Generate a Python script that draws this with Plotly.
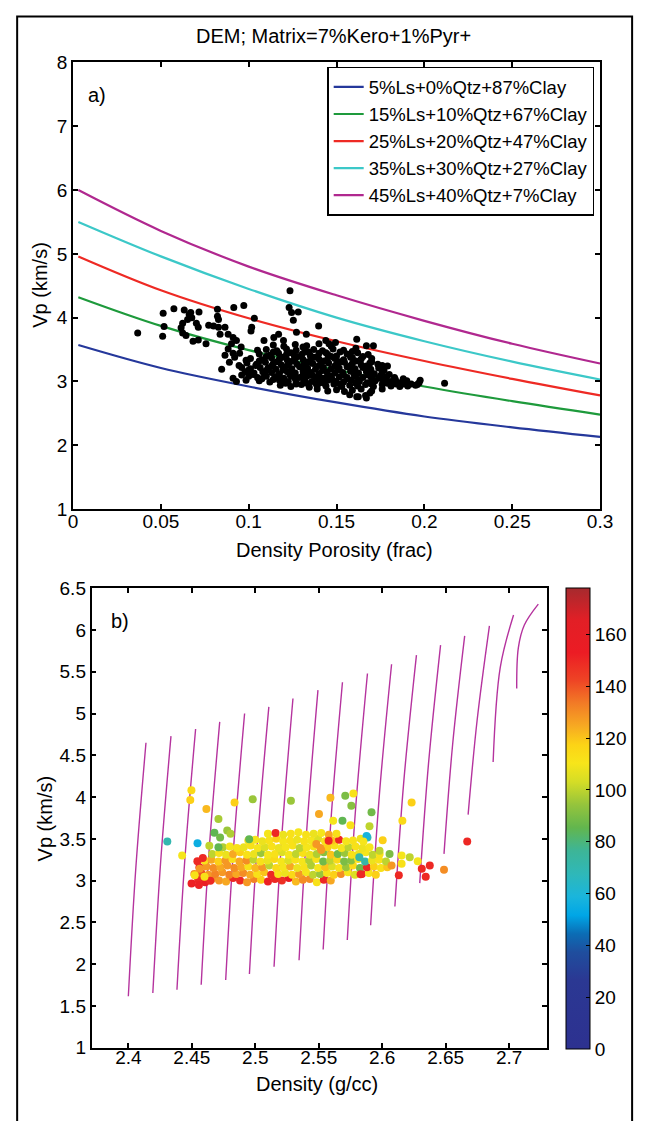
import plotly.graph_objects as go

W, H = 649, 1121

# ---------------- Panel a : model curves ----------------
por_grid = [0.003, 0.05, 0.10, 0.15, 0.20, 0.25, 0.30]
curve_names = ["5%Ls+0%Qtz+87%Clay", "15%Ls+10%Qtz+67%Clay", "25%Ls+20%Qtz+47%Clay",
               "35%Ls+30%Qtz+27%Clay", "45%Ls+40%Qtz+7%Clay"]
vp_blue = [3.57, 3.21, 2.92, 2.67, 2.45, 2.28, 2.13]
vp_green = [4.32, 3.87, 3.49, 3.18, 2.92, 2.69, 2.48]
vp_red = [4.96, 4.43, 3.99, 3.63, 3.32, 3.04, 2.78]
vp_cyan = [5.50, 4.96, 4.45, 4.00, 3.63, 3.31, 3.03]
vp_magenta = [6.00, 5.36, 4.80, 4.35, 3.95, 3.59, 3.28]
curve_colors = ["#25389b", "#1e9a3c", "#ee2a24", "#3cc8c8", "#b0288f"]

# ---------------- Panel a : data points (porosity, Vp) ----------------
pts_a = [
    (0.0368, 3.76), (0.0513, 4.07), (0.0518, 3.86), (0.0510, 3.71), (0.0574, 4.14), (0.0633, 4.12),
    (0.0670, 4.08), (0.0717, 4.09), (0.0661, 4.05), (0.0652, 3.97), (0.0624, 3.91), (0.0615, 3.84),
    (0.0624, 3.76), (0.0643, 3.72), (0.0676, 4.00), (0.0702, 3.91), (0.0713, 3.85), (0.0683, 3.63),
    (0.0713, 3.65), (0.0757, 3.59), (0.0822, 4.13), (0.0822, 4.02), (0.0828, 3.97), (0.0915, 4.16),
    (0.0972, 4.19), (0.1032, 3.99), (0.1017, 3.85), (0.1013, 3.79), (0.0772, 3.88), (0.0800, 3.87),
    (0.0828, 3.85), (0.0865, 3.85), (0.0837, 3.74), (0.0883, 3.74), (0.0911, 3.69), (0.0930, 3.64),
    (0.0902, 3.59), (0.0883, 3.51), (0.0957, 3.54), (0.0948, 3.44), (0.0911, 3.44), (0.0865, 3.41),
    (0.0846, 3.19), (0.0911, 3.05), (0.0930, 3.00), (0.0985, 3.33), (0.1050, 3.49), (0.1087, 3.64),
    (0.1143, 3.69), (0.1170, 3.74), (0.1198, 3.64), (0.1235, 4.42), (0.1230, 4.16), (0.1244, 4.08),
    (0.1282, 4.09), (0.1254, 3.96), (0.1272, 3.77), (0.1328, 3.74), (0.1398, 3.87), (0.1439, 3.64),
    (0.1309, 3.54), (0.1615, 3.66), (0.1670, 3.56), (0.1710, 3.56), (0.1494, 3.61), (0.1457, 3.59),
    (0.1624, 2.76), (0.1670, 2.74), (0.1976, 3.02), (0.2115, 2.97), (0.1840, 2.96), (0.1925, 2.96),
    (0.1960, 2.95), (0.0890, 3.30), (0.0920, 3.38), (0.0945, 3.25), (0.0960, 3.10), (0.0985, 3.02),
    # dense cluster
    (0.1575, 2.79), (0.1615, 2.76), (0.1665, 2.78), (0.1690, 2.82),
    (0.1390, 2.88), (0.1450, 2.85), (0.1500, 2.87), (0.1545, 2.84), (0.1590, 2.86), (0.1640, 2.88),
    (0.1700, 2.85), (0.1760, 2.88),
    (0.1180, 2.94), (0.1240, 2.92), (0.1300, 2.95), (0.1345, 2.91), (0.1390, 2.94), (0.1440, 2.93),
    (0.1485, 2.96), (0.1530, 2.92), (0.1575, 2.94), (0.1620, 2.93), (0.1665, 2.95), (0.1710, 2.92),
    (0.1760, 2.95), (0.1810, 2.93), (0.1860, 2.92), (0.1905, 2.93), (0.1950, 2.94),
    (0.1060, 3.01), (0.1120, 2.99), (0.1175, 3.02), (0.1225, 3.00), (0.1270, 2.98), (0.1315, 3.01),
    (0.1360, 3.00), (0.1405, 2.98), (0.1450, 3.02), (0.1495, 3.00), (0.1540, 2.99), (0.1585, 3.02),
    (0.1630, 3.00), (0.1675, 2.98), (0.1720, 3.01), (0.1765, 2.99), (0.1810, 3.00), (0.1855, 2.98),
    (0.1900, 3.01), (0.1970, 2.98),
    (0.1000, 3.08), (0.1050, 3.06), (0.1100, 3.08), (0.1150, 3.07), (0.1200, 3.05), (0.1245, 3.08),
    (0.1290, 3.06), (0.1335, 3.09), (0.1380, 3.07), (0.1425, 3.05), (0.1470, 3.08), (0.1515, 3.07),
    (0.1560, 3.06), (0.1605, 3.08), (0.1650, 3.06), (0.1695, 3.08), (0.1740, 3.05), (0.1785, 3.07),
    (0.1830, 3.06), (0.1880, 3.04),
    (0.0980, 3.15), (0.1030, 3.13), (0.1080, 3.15), (0.1130, 3.14), (0.1175, 3.12), (0.1220, 3.15),
    (0.1265, 3.13), (0.1310, 3.16), (0.1355, 3.14), (0.1400, 3.12), (0.1445, 3.15), (0.1490, 3.13),
    (0.1535, 3.14), (0.1580, 3.16), (0.1625, 3.13), (0.1670, 3.15), (0.1715, 3.12), (0.1760, 3.14),
    (0.1800, 3.11),
    (0.0960, 3.22), (0.1010, 3.20), (0.1065, 3.22), (0.1110, 3.21), (0.1155, 3.19), (0.1200, 3.22),
    (0.1245, 3.20), (0.1290, 3.23), (0.1335, 3.21), (0.1380, 3.19), (0.1425, 3.22), (0.1470, 3.20),
    (0.1515, 3.21), (0.1560, 3.23), (0.1605, 3.20), (0.1650, 3.22), (0.1695, 3.19), (0.1740, 3.21),
    (0.1790, 3.24),
    (0.0990, 3.29), (0.1045, 3.27), (0.1095, 3.30), (0.1140, 3.28), (0.1185, 3.26), (0.1230, 3.29),
    (0.1275, 3.27), (0.1320, 3.30), (0.1365, 3.28), (0.1410, 3.26), (0.1455, 3.29), (0.1500, 3.27),
    (0.1545, 3.30), (0.1590, 3.28), (0.1640, 3.26), (0.1690, 3.29), (0.1735, 3.27),
    (0.1010, 3.36), (0.1075, 3.34), (0.1130, 3.37), (0.1175, 3.35), (0.1220, 3.33), (0.1265, 3.36),
    (0.1310, 3.34), (0.1355, 3.37), (0.1400, 3.35), (0.1445, 3.33), (0.1490, 3.36), (0.1540, 3.34),
    (0.1590, 3.37), (0.1640, 3.35), (0.1700, 3.36),
    (0.1060, 3.43), (0.1120, 3.41), (0.1170, 3.44), (0.1215, 3.42), (0.1260, 3.40), (0.1305, 3.43),
    (0.1350, 3.41), (0.1400, 3.44), (0.1450, 3.42), (0.1500, 3.40), (0.1560, 3.43), (0.1620, 3.45),
    (0.1680, 3.42),
    (0.1100, 3.50), (0.1160, 3.48), (0.1215, 3.51), (0.1270, 3.49), (0.1320, 3.47), (0.1370, 3.50),
    (0.1420, 3.48), (0.1480, 3.51), (0.1540, 3.49), (0.1610, 3.52),
    (0.1140, 3.57), (0.1200, 3.55), (0.1265, 3.58), (0.1330, 3.56), (0.1400, 3.59), (0.1470, 3.55),
    # interleaved points in the dense core
    (0.1210, 2.97), (0.1270, 2.96), (0.1330, 2.97), (0.1385, 2.96), (0.1430, 2.97), (0.1520, 2.96),
    (0.1610, 2.97), (0.1700, 2.96), (0.1790, 2.97), (0.1880, 2.96),
    (0.1075, 3.04), (0.1140, 3.03), (0.1200, 3.02), (0.1265, 3.04), (0.1320, 3.03), (0.1395, 3.04),
    (0.1475, 3.03), (0.1560, 3.04), (0.1625, 3.03), (0.1700, 3.04), (0.1765, 3.03), (0.1835, 3.03),
    (0.1025, 3.11), (0.1090, 3.10), (0.1170, 3.11), (0.1235, 3.10), (0.1310, 3.11), (0.1360, 3.10),
    (0.1450, 3.11), (0.1540, 3.10), (0.1600, 3.11), (0.1680, 3.10), (0.1750, 3.09),
    (0.1000, 3.18), (0.1100, 3.17), (0.1195, 3.18), (0.1245, 3.17), (0.1330, 3.18), (0.1420, 3.17),
    (0.1510, 3.18), (0.1600, 3.18), (0.1690, 3.17), (0.1770, 3.17),
    (0.1040, 3.25), (0.1130, 3.24), (0.1220, 3.25), (0.1310, 3.24), (0.1400, 3.25), (0.1490, 3.24),
    (0.1580, 3.25), (0.1670, 3.24), (0.1760, 3.25),
    (0.1060, 3.32), (0.1160, 3.31), (0.1250, 3.32), (0.1340, 3.31), (0.1430, 3.32), (0.1520, 3.31),
    (0.1610, 3.32), (0.1700, 3.31),
    (0.1100, 3.39), (0.1190, 3.38), (0.1280, 3.39), (0.1375, 3.38), (0.1470, 3.39), (0.1580, 3.38),
    (0.1650, 3.39),
    (0.1140, 3.46), (0.1240, 3.45), (0.1340, 3.46), (0.1440, 3.45), (0.1520, 3.46), (0.1590, 3.47),
]
por_pts = [p for p, v in pts_a]
vp_pts_a = [v for p, v in pts_a]

# ---------------- Panel b : model curves (density, Vp) ----------------
rho_curves = [
    [2.4000, 2.4058, 2.4139], [2.4193, 2.4253, 2.4336], [2.4383, 2.4445, 2.4530],
    [2.4574, 2.4635, 2.4720], [2.4767, 2.4830, 2.4916], [2.4954, 2.5018, 2.5107],
    [2.5148, 2.5211, 2.5297], [2.5345, 2.5408, 2.5494], [2.5535, 2.5599, 2.5687],
    [2.5725, 2.5792, 2.5884], [2.5909, 2.5978, 2.6074], [2.6100, 2.6171, 2.6270],
    [2.6296, 2.6365, 2.6460], [2.6487, 2.6555, 2.6650], [2.6677, 2.6748, 2.6845],
    [2.6874, 2.6930, 2.7035], [2.7060, 2.7073, 2.7120, 2.7230],
]
vp_curves = [
    [1.615, 3.13, 4.65], [1.654, 3.19, 4.73], [1.694, 3.25, 4.815],
    [1.753, 3.33, 4.90], [1.811, 3.41, 5.00], [1.882, 3.48, 5.08],
    [1.968, 3.57, 5.18], [2.046, 3.66, 5.28], [2.176, 3.78, 5.375],
    [2.290, 3.89, 5.48], [2.465, 4.03, 5.59], [2.690, 4.20, 5.70],
    [2.970, 4.40, 5.82], [3.320, 4.63, 5.93], [3.790, 4.92, 6.05],
    [4.420, 5.55, 6.18], [5.300, 5.79, 6.06, 6.31],
]

# ---------------- Panel b : data points (density, Vp, colour value) ----------------
pts_b = [
    (2.4550, 3.01, 150), (2.4605, 2.98, 155), (2.4660, 3.02, 130), (2.4715, 3.00, 128), (2.4770, 2.99, 125),
    (2.4825, 3.03, 150), (2.4880, 3.00, 150), (2.4935, 2.98, 128), (2.4990, 3.02, 132), (2.5045, 3.01, 118),
    (2.5100, 2.99, 152), (2.5155, 3.02, 150), (2.5210, 3.00, 148), (2.5265, 3.03, 155), (2.5320, 2.99, 122),
    (2.5375, 3.01, 130), (2.5430, 3.02, 130), (2.5485, 2.98, 112), (2.5540, 3.01, 150), (2.5595, 3.00, 125),
    (2.4520, 3.08, 130), (2.4575, 3.09, 140), (2.4630, 3.07, 128), (2.4685, 3.08, 132), (2.4740, 3.10, 128),
    (2.4795, 3.07, 132), (2.4850, 3.08, 125), (2.4905, 3.09, 130), (2.4960, 3.07, 125), (2.5015, 3.08, 112),
    (2.5070, 3.10, 120), (2.5125, 3.07, 150), (2.5180, 3.08, 112), (2.5235, 3.09, 108), (2.5290, 3.07, 115),
    (2.5345, 3.08, 128), (2.5400, 3.10, 110), (2.5455, 3.07, 100), (2.5510, 3.08, 95), (2.5565, 3.09, 112),
    (2.5620, 3.07, 118), (2.5675, 3.08, 130), (2.5730, 3.10, 110), (2.5785, 3.07, 105), (2.5840, 3.08, 150),
    (2.5895, 3.09, 112), (2.5950, 3.07, 118),
    (2.4560, 3.16, 150), (2.4615, 3.17, 128), (2.4670, 3.15, 130), (2.4725, 3.16, 125), (2.4780, 3.18, 128),
    (2.4835, 3.15, 130), (2.4890, 3.16, 125), (2.4945, 3.17, 112), (2.5000, 3.15, 122), (2.5055, 3.16, 128),
    (2.5110, 3.18, 100), (2.5165, 3.15, 115), (2.5220, 3.16, 110), (2.5275, 3.17, 125), (2.5330, 3.15, 108),
    (2.5385, 3.16, 112), (2.5440, 3.18, 98), (2.5495, 3.15, 110), (2.5550, 3.16, 120), (2.5605, 3.17, 105),
    (2.5660, 3.15, 112), (2.5715, 3.16, 95), (2.5770, 3.18, 115), (2.5825, 3.15, 88), (2.5880, 3.16, 150),
    (2.5935, 3.17, 118), (2.5990, 3.15, 112), (2.6040, 3.16, 120),
    (2.4600, 3.24, 112), (2.4655, 3.25, 125), (2.4710, 3.23, 118), (2.4765, 3.24, 128), (2.4820, 3.26, 112),
    (2.4875, 3.23, 125), (2.4930, 3.24, 130), (2.4985, 3.25, 100), (2.5040, 3.23, 112), (2.5095, 3.24, 108),
    (2.5150, 3.26, 115), (2.5205, 3.23, 110), (2.5260, 3.24, 105), (2.5315, 3.25, 112), (2.5370, 3.23, 110),
    (2.5425, 3.24, 98), (2.5480, 3.26, 112), (2.5535, 3.23, 88), (2.5590, 3.24, 100), (2.5645, 3.25, 115),
    (2.5700, 3.23, 90), (2.5755, 3.24, 92), (2.5810, 3.26, 112), (2.5865, 3.23, 72), (2.5920, 3.24, 108),
    (2.5975, 3.25, 112), (2.6030, 3.23, 100),
    (2.4660, 3.32, 100), (2.4715, 3.33, 112), (2.4770, 3.31, 108), (2.4825, 3.32, 125), (2.4880, 3.34, 118),
    (2.4935, 3.31, 112), (2.4990, 3.32, 108), (2.5045, 3.33, 95), (2.5100, 3.31, 110), (2.5155, 3.32, 112),
    (2.5210, 3.34, 105), (2.5265, 3.31, 110), (2.5320, 3.32, 100), (2.5375, 3.33, 112), (2.5430, 3.31, 108),
    (2.5485, 3.32, 98), (2.5540, 3.34, 92), (2.5595, 3.31, 120), (2.5650, 3.32, 88), (2.5705, 3.33, 95),
    (2.5760, 3.31, 112), (2.5815, 3.32, 108), (2.5870, 3.34, 110), (2.5925, 3.31, 100), (2.5980, 3.32, 112),
    (2.4745, 3.40, 98), (2.4800, 3.41, 110), (2.4855, 3.39, 112), (2.4910, 3.40, 108), (2.4965, 3.42, 112),
    (2.5020, 3.39, 110), (2.5075, 3.40, 105), (2.5130, 3.41, 112), (2.5185, 3.39, 108), (2.5240, 3.40, 110),
    (2.5295, 3.42, 112), (2.5350, 3.39, 100), (2.5405, 3.40, 110), (2.5460, 3.41, 112), (2.5515, 3.39, 128),
    (2.5570, 3.40, 118), (2.5625, 3.42, 112), (2.5680, 3.39, 110), (2.5735, 3.40, 100), (2.5790, 3.41, 112),
    (2.5845, 3.39, 108), (2.5900, 3.40, 110),
    (2.4945, 3.48, 112), (2.5000, 3.49, 110), (2.5055, 3.47, 108), (2.5110, 3.48, 112), (2.5165, 3.50, 118),
    (2.5220, 3.47, 110), (2.5275, 3.48, 112), (2.5330, 3.49, 108), (2.5385, 3.47, 112), (2.5440, 3.48, 110),
    (2.5495, 3.50, 105), (2.5550, 3.47, 112), (2.5605, 3.48, 120), (2.5660, 3.49, 150), (2.5715, 3.47, 110),
    (2.5770, 3.48, 112), (2.5830, 3.50, 108),
    (2.5100, 3.56, 110), (2.5160, 3.57, 150), (2.5220, 3.55, 108), (2.5280, 3.56, 112), (2.5340, 3.58, 110),
    (2.5400, 3.55, 112), (2.5460, 3.56, 108), (2.5520, 3.57, 110), (2.5580, 3.55, 125), (2.5640, 3.56, 112),
    # scattered points
    (2.4497, 4.083, 115), (2.4488, 3.965, 118), (2.4615, 3.856, 122), (2.4837, 3.934, 118), (2.4980, 3.974, 95),
    (2.5281, 3.957, 95), (2.5592, 3.992, 122), (2.5709, 4.016, 90), (2.5773, 4.044, 112), (2.5757, 3.895, 92),
    (2.5502, 3.797, 125), (2.5687, 3.718, 85), (2.5614, 3.718, 110), (2.5750, 3.663, 112), (2.5916, 3.820, 88),
    (2.6159, 3.718, 115), (2.6232, 3.934, 118), (2.5900, 3.652, 100), (2.4710, 3.737, 97), (2.4307, 3.468, 70),
    (2.4545, 3.448, 55), (2.4424, 3.300, 110), (2.4678, 3.574, 85), (2.4779, 3.601, 95), (2.4723, 3.515, 88),
    (2.4805, 3.562, 98), (2.4952, 3.495, 85), (2.4710, 3.400, 85), (2.4638, 3.417, 100), (2.5884, 3.515, 70),
    (2.5877, 3.535, 58), (2.5852, 3.468, 110), (2.6004, 3.484, 118), (2.5820, 3.280, 72), (2.5979, 3.358, 100),
    (2.6058, 3.319, 90), (2.6153, 3.300, 110), (2.6217, 3.280, 100), (2.6153, 3.201, 112), (2.6074, 3.181, 128),
    (2.6280, 3.233, 110), (2.6312, 3.143, 150), (2.6375, 3.181, 150), (2.6343, 3.045, 150), (2.6487, 3.131, 130),
    (2.6670, 3.468, 150), (2.6131, 3.064, 150), (2.5830, 3.076, 150), (2.5578, 3.476, 150), (2.5481, 3.437, 128),
    (2.5520, 3.366, 128), (2.4544, 3.233, 150), (2.4587, 3.272, 150), (2.4562, 3.143, 128), (2.4498, 2.967, 152),
    (2.4556, 2.947, 152), (2.4646, 2.998, 150), (2.4523, 3.064, 112), (2.4600, 3.045, 112),
]
rho_pts = [r for r, v, c in pts_b]
vp_pts_b = [v for r, v, c in pts_b]
col_pts_b = [c for r, v, c in pts_b]

cb_ticks = [0, 20, 40, 60, 80, 100, 120, 140, 160]
a_xticks = [0, 0.05, 0.1, 0.15, 0.2, 0.25, 0.3]
a_xtext = ["0", "0.05", "0.1", "0.15", "0.2", "0.25", "0.3"]
a_yticks = [1, 2, 3, 4, 5, 6, 7, 8]
b_xticks = [2.4, 2.45, 2.5, 2.55, 2.6, 2.65, 2.7]
b_yticks = [1, 1.5, 2, 2.5, 3, 3.5, 4, 4.5, 5, 5.5, 6, 6.5]
b_ytext = ["1", "1.5", "2", "2.5", "3", "3.5", "4", "4.5", "5", "5.5", "6", "6.5"]

colorscale = [
    [0.00, "#2d3190"], [0.15, "#2b3893"], [0.21, "#1f4e9e"], [0.25, "#0b6db5"],
    [0.29, "#00a6e6"], [0.33, "#1ab5dc"], [0.38, "#2fb8b8"], [0.43, "#3db597"],
    [0.48, "#62b64e"], [0.53, "#95c43c"], [0.58, "#d5dd26"], [0.62, "#f7e51a"],
    [0.66, "#fcd316"], [0.70, "#f7aa22"], [0.75, "#f27b26"], [0.80, "#ee4425"],
    [0.86, "#ec1c24"], [0.93, "#e21f26"], [1.00, "#a62a2e"],
]

FONT = "Liberation Sans, Arial, Helvetica, sans-serif"

fig = go.Figure()

vp_sets = [vp_blue, vp_green, vp_red, vp_cyan, vp_magenta]
for name, vals, col in zip(curve_names, vp_sets, curve_colors):
    fig.add_trace(go.Scatter(x=por_grid, y=vals, mode="lines", name=name,
                             line=dict(color=col, width=2.2, shape="spline"),
                             xaxis="x", yaxis="y"))

fig.add_trace(go.Scatter(x=por_pts, y=vp_pts_a, mode="markers", showlegend=False,
                         marker=dict(color="black", size=7), xaxis="x", yaxis="y"))

for rx, vy in zip(rho_curves, vp_curves):
    fig.add_trace(go.Scatter(x=rx, y=vy, mode="lines", showlegend=False,
                             line=dict(color="#b5339e", width=1.4, shape="spline"),
                             xaxis="x2", yaxis="y2"))

fig.add_trace(go.Scatter(
    x=rho_pts, y=vp_pts_b, mode="markers", showlegend=False, xaxis="x2", yaxis="y2",
    marker=dict(color=col_pts_b, colorscale=colorscale, cmin=0, cmax=178, size=8,
                line=dict(width=0),
                colorbar=dict(x=577 / W, xanchor="left", y=1 - 589 / H, yanchor="top",
                              len=470 / H, lenmode="fraction", thickness=24, thicknessmode="pixels",
                              xpad=0, ypad=0, outlinewidth=1, outlinecolor="black",
                              ticks="inside", ticklen=4, tickcolor="black",
                              tickvals=cb_ticks, tickfont=dict(size=19, color="black", family=FONT)))))

axis_common = dict(showgrid=False, zeroline=False, showline=True, linecolor="black",
                   mirror="ticks", ticks="inside", tickcolor="black", ticklen=5,
                   tickfont=dict(size=19, color="black", family=FONT))

fig.update_layout(
    width=W, height=H, margin=dict(l=0, r=0, t=0, b=0),
    paper_bgcolor="white", plot_bgcolor="white",
    font=dict(family=FONT, color="black"),
    xaxis=dict(domain=[70 / W, 612 / W], range=[0, 0.3], tickvals=a_xticks, ticktext=a_xtext,
               anchor="y", linewidth=2, tickwidth=2, ticklabelstandoff=-6, **axis_common),
    yaxis=dict(domain=[1 - 508.5 / H, 1 - 53.5 / H], range=[1, 8], tickvals=a_yticks,
               anchor="x", linewidth=2, tickwidth=2, **axis_common),
    xaxis2=dict(domain=[89 / W, 557 / W], range=[2.371, 2.7295], tickvals=b_xticks,
                anchor="y2", linewidth=1.5, tickwidth=1.5, ticklabelstandoff=-8, **axis_common),
    yaxis2=dict(domain=[1 - 1057.5 / H, 1 - 589.3 / H], range=[1, 6.5], tickvals=b_yticks,
                ticktext=b_ytext, anchor="x2", linewidth=1.5, tickwidth=1.5, **axis_common),
    legend=dict(x=606 / W, xanchor="right", y=1 - 58 / H, yanchor="top",
                bgcolor="white", bordercolor="black", borderwidth=1.5,
                font=dict(size=18.5, color="black", family=FONT)),
    showlegend=True,
)

ann = [
    dict(text="DEM; Matrix=7%Kero+1%Pyr+", x=338 / W, y=1 - 27 / H, size=20),
    dict(text="a)", x=95 / W, y=1 - 87 / H, size=20),
    dict(text="b)", x=118 / W, y=1 - 623 / H, size=20),
    dict(text="Density Porosity (frac)", x=339 / W, y=1 - 550 / H, size=20),
    dict(text="Density (g/cc)", x=321 / W, y=1 - 1094 / H, size=20),
]
for a in ann:
    fig.add_annotation(text=a["text"], x=a["x"], y=a["y"], xref="paper", yref="paper",
                       xanchor="center", yanchor="middle", showarrow=False,
                       font=dict(size=a["size"], color="black", family=FONT))
fig.add_annotation(text="Vp (km/s)", x=36 / W, y=1 - 280 / H, xref="paper", yref="paper",
                   textangle=-90, showarrow=False, xanchor="center", yanchor="middle",
                   font=dict(size=20, color="black", family=FONT))
fig.add_annotation(text="Vp (km/s)", x=41 / W, y=1 - 824 / H, xref="paper", yref="paper",
                   textangle=-90, showarrow=False, xanchor="center", yanchor="middle",
                   font=dict(size=20, color="black", family=FONT))

fig.add_shape(type="rect", xref="paper", yref="paper", x0=12.5 / W, x1=645 / W,
              y0=-0.02, y1=1 - 6.5 / H, line=dict(color="black", width=2))

fig.write_html("out.html", config={"displayModeBar": False},
               post_script="document.body.style.margin='0';document.body.style.overflow='hidden';")
